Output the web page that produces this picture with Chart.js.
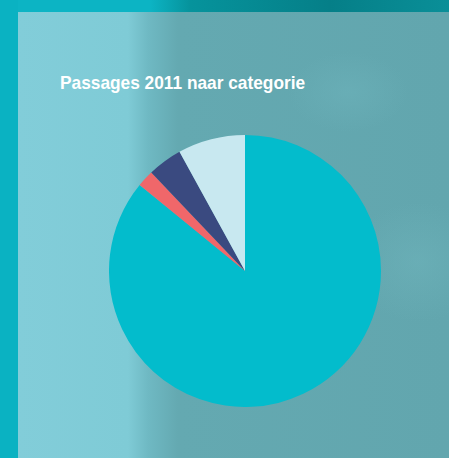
<!DOCTYPE html>
<html>
<head>
<meta charset="utf-8">
<script src="https://cdn.jsdelivr.net/npm/chart.js"></script>
<style>
  html, body { margin: 0; padding: 0; }
  body {
    width: 449px; height: 458px; overflow: hidden; position: relative;
    background: linear-gradient(90deg, #0cb4c4 0px, #0cb4c4 150px, #06939c 190px, #057f88 330px, #0a8f98 449px);
  }
  #panel {
    position: absolute; left: 18px; top: 12px; width: 431px; height: 446px;
    background:
      radial-gradient(ellipse 60px 40px at 330px 80px, rgba(110,180,188,0.5), rgba(110,180,188,0)),
      radial-gradient(ellipse 80px 50px at 260px 330px, rgba(80,150,158,0.4), rgba(80,150,158,0)),
      radial-gradient(ellipse 70px 60px at 400px 250px, rgba(115,185,192,0.4), rgba(115,185,192,0)),
      linear-gradient(90deg, #82cdd9 0px, #7fcbd6 110px, #6fb9c3 130px, #64a9b1 160px, #62a6ae 431px);
  }
  #left-strip {
    position: absolute; left: 0; top: 0; width: 18px; height: 458px; background: #0ab2c2;
  }
  #title {
    position: absolute; left: 60px; top: 72px;
    font-family: "Liberation Sans", Arial, sans-serif;
    font-weight: bold; font-size: 19px; color: #ffffff; white-space: nowrap;
    transform: scaleX(0.91); transform-origin: 0 0;
  }
  #wrap { position: absolute; left: 109px; top: 135px; width: 272px; height: 272px; }
</style>
</head>
<body>
<div id="left-strip"></div>
<div id="panel"></div>
<div id="title">Passages 2011 naar categorie</div>
<div id="wrap"><canvas id="pieChart"></canvas></div>

<script>
// slices clockwise from 12 o'clock
const categories = ['Categorie 1', 'Categorie 2', 'Categorie 3', 'Categorie 4'];
const shares = [85.9, 2.0, 4.1, 8.0];
const sliceColors = ['#03bccc', '#f0676a', '#3a4a80', '#c8e8f0'];

const pie = new Chart(document.getElementById('pieChart'), {
  type: 'pie',
  data: {
    labels: categories,
    datasets: [{
      data: shares,
      backgroundColor: sliceColors,
      borderWidth: 0
    }]
  },
  options: {
    responsive: true,
    maintainAspectRatio: false,
    animation: false,
    layout: { padding: 0 },
    plugins: {
      legend: { display: false },
      tooltip: { enabled: false }
    }
  }
});
</script>
</body>
</html>
